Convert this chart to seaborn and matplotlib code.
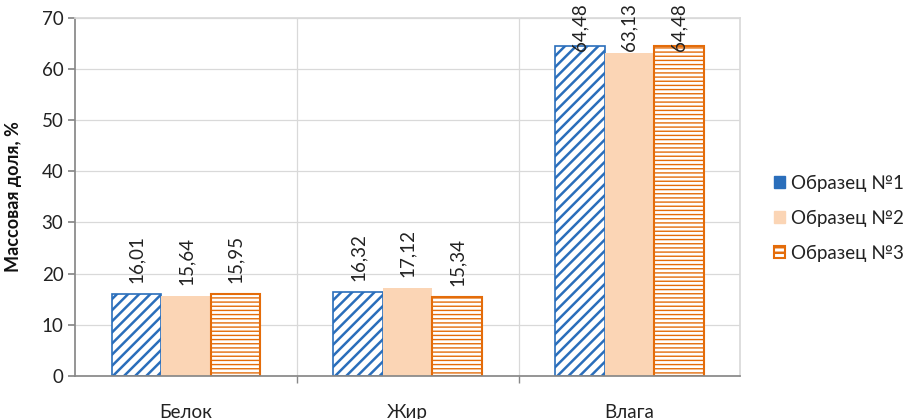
import numpy as np
import pandas as pd
import matplotlib
matplotlib.use("Agg")
import matplotlib.pyplot as plt
from matplotlib.patches import Patch
import seaborn as sns

CATEGORIES = ["Белок", "Жир", "Влага"]
SAMPLES    = ["Образец №1", "Образец №2", "Образец №3"]
VALUES = {
    "Образец №1": [16.01, 16.32, 64.48],
    "Образец №2": [15.64, 17.12, 63.13],
    "Образец №3": [15.95, 15.34, 64.48],
}
Y_TICKS = [0, 10, 20, 30, 40, 50, 60, 70]

BLUE   = "#2A6EBB"
PEACH  = "#FBD5B5"
ORANGE = "#E46C0A"

df = pd.DataFrame([
    {"cat": c, "sample": s, "val": VALUES[s][i]}
    for s in SAMPLES for i, c in enumerate(CATEGORIES)
])

sns.set_theme(style="white")
plt.rcParams["font.family"] = ["Lato", "DejaVu Sans"]
plt.rcParams["hatch.linewidth"] = 1.8

fig = plt.figure(figsize=(9.06, 4.19), dpi=100)
ax = fig.add_axes([0.083, 0.103, 0.734, 0.854])

sns.barplot(data=df, x="cat", y="val", hue="sample", hue_order=SAMPLES,
            order=CATEGORIES, width=0.67, ax=ax, legend=False,
            palette=[BLUE, PEACH, ORANGE], saturation=1)

styles = {
    0: dict(face="white", edge=BLUE, hatch="///", lw=1.2),
    1: dict(face=PEACH, edge=PEACH, hatch=None, lw=0),
    2: dict(face="white", edge=ORANGE, hatch="----", lw=1.5),
}
ax_h_px = 358.0
for k, cont in enumerate(ax.containers):
    st = styles[k]
    for bar, v in zip(cont, cont.datavalues):
        bar.set_facecolor(st["face"])
        bar.set_edgecolor(st["edge"])
        bar.set_linewidth(st["lw"])
        if st["hatch"]:
            bar.set_hatch(st["hatch"])
            if k == 2 and hasattr(bar, "set_hatch_linewidth"):
                bar.set_hatch_linewidth(1.0)
        # labels near the top get pushed down so they stay inside the figure
        space_px = (70 - v) / 70 * ax_h_px + 17
        pad_pt = min(11, space_px - 50) * 0.72
        ax.annotate(f"{v:.2f}".replace(".", ","),
                    xy=(bar.get_x() + bar.get_width() / 2, v),
                    xytext=(0, pad_pt), textcoords="offset points",
                    rotation=90, ha="center", va="bottom",
                    fontsize=13.5, color="#222222", annotation_clip=False)

ax.set_ylim(0, 70)
ax.set_yticks(Y_TICKS)
ax.set_xlim(-0.5, 2.5)
ax.set_xticks([0, 1, 2])
ax.set_xticklabels(CATEGORIES)
ax.set_xticks([0.5, 1.5], minor=True)
ax.yaxis.grid(True, color="#D9D9D9", linewidth=0.9)
ax.xaxis.grid(True, which="minor", color="#D9D9D9", linewidth=0.9)
ax.set_axisbelow(True)

for side in ["top", "right"]:
    ax.spines[side].set_color("#D9D9D9")
for side in ["left", "bottom"]:
    ax.spines[side].set_color("#888888")

ax.tick_params(axis="y", which="major", left=True, length=5, color="#888888",
               labelsize=13.5, labelcolor="#222222")
ax.tick_params(axis="x", which="major", bottom=False, labelsize=13.5,
               labelcolor="#222222", pad=14)
ax.tick_params(axis="x", which="minor", bottom=True, length=5, color="#888888")

ax.set_xlabel("")
ax.set_ylabel("Массовая доля, %", fontsize=13, fontweight="bold",
              color="#111111", labelpad=14)

handles = [
    Patch(facecolor=BLUE, edgecolor=BLUE),
    Patch(facecolor=PEACH, edgecolor=PEACH),
    Patch(facecolor="white", edgecolor=ORANGE, hatch="---", linewidth=1.5),
]
ax.legend(handles, SAMPLES, loc="center left", bbox_to_anchor=(1.025, 0.44),
          frameon=False, fontsize=13.5, handlelength=0.6, handleheight=0.6,
          handletextpad=0.3, labelspacing=0.95, labelcolor="#222222")

fig.savefig("out.png", dpi=100)
